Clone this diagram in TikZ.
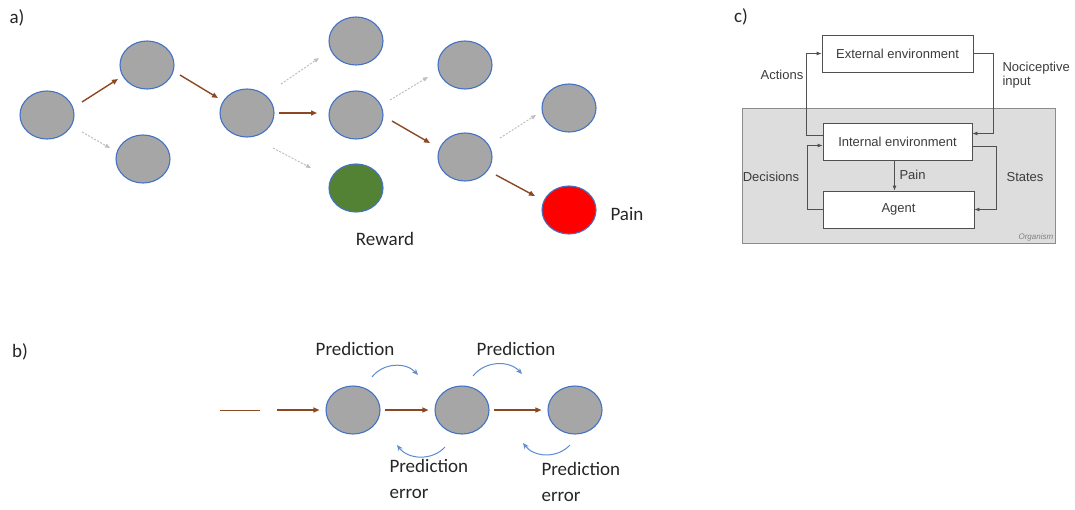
\documentclass[tikz,border=0pt]{standalone}
\usepackage{fontspec}
\setmainfont{Carlito}
\newfontfamily\arialfont{Liberation Sans}
\usetikzlibrary{arrows.meta,shapes.geometric}
\definecolor{nodegrey}{RGB}{166,166,166}
\definecolor{nodeblue}{RGB}{68,114,196}
\definecolor{arrowbrown}{RGB}{140,72,35}
\definecolor{dotgrey}{RGB}{190,190,190}
\definecolor{curveblue}{RGB}{91,139,208}
\definecolor{rewardgreen}{RGB}{84,130,53}
\definecolor{painred}{RGB}{255,0,0}
\definecolor{boxline}{RGB}{80,80,80}
\definecolor{orgfill}{RGB}{221,221,221}
\definecolor{orgline}{RGB}{140,140,140}
\definecolor{ctext}{RGB}{60,60,60}
\tikzset{
  state/.style={ellipse, draw=nodeblue, fill=nodegrey, line width=1.1pt,
    minimum width=54pt, minimum height=48pt, inner sep=0pt},
  choice/.style={draw=arrowbrown, line width=1.4pt,
    -{Triangle[length=6pt,width=5pt]}},
  option/.style={draw=dotgrey, line width=1pt, dash pattern=on 2pt off 1.5pt,
    -{Triangle[length=5pt,width=4pt]}},
  loop/.style={draw=curveblue, line width=1pt, -{Stealth[length=6pt,width=5pt]}},
  lbl/.style={font=\fontsize{19}{26}\selectfont, text=black!85},
  cbox/.style={draw=boxline, fill=white, line width=0.8pt, inner sep=0pt,
    text=ctext, font=\arialfont\fontsize{13}{15}\selectfont},
  carrow/.style={draw=boxline, line width=0.8pt, -{Latex[length=5pt,width=4pt]}},
  clbl/.style={text=ctext, font=\arialfont\fontsize{13}{15}\selectfont, align=left}
}
\begin{document}
\begin{tikzpicture}[x=1pt,y=-1pt]
\useasboundingbox (0,0) rectangle (1075,509);

% ---------- a) decision tree ----------
\node[lbl] (la) at (17,18) {a)};
\node[state] (s0) at (47,115) {};
\node[state] (s1) at (147,65) {};
\node[state] (s2) at (143,159) {};
\node[state] (s3) at (247,113) {};
\node[state] (s4) at (356,41) {};
\node[state] (s5) at (356,115) {};
\node[state, fill=rewardgreen] (rew) at (356,188) {};
\node[state] (s6) at (465,65) {};
\node[state] (s7) at (465,157) {};
\node[state] (s8) at (569,108) {};
\node[state, fill=painred] (pain) at (569,210) {};
\node[lbl] (lrew) at (385,239) {Reward};
\node[lbl, anchor=west] (lpain) at (607,214) {Pain};

\draw[choice] (s0) ++(35,-13) -- ++(36,-23);
\draw[option] (s0) ++(35,17) -- ++(28,16);
\draw[choice] (s1) ++(33,10) -- ++(38,23);
\draw[option] (s3) ++(34,-29) -- ++(38,-26);
\draw[choice] (s3) ++(32,0) -- ++(38,0);
\draw[option] (s3) ++(26,35) -- ++(38,20);
\draw[option] (s5) ++(34,-15) -- ++(38,-23);
\draw[choice] (s5) ++(36,6) -- ++(38,22);
\draw[option] (s7) ++(35,-19) -- ++(36,-23);
\draw[choice] (s7) ++(31,18) -- ++(39,21);

% ---------- b) prediction chain ----------
\node[lbl] (lb) at (20,352) {b)};
\node[state] (p1) at (353,410) {};
\node[state] (p2) at (462,410) {};
\node[state] (p3) at (575,410) {};
\coordinate (t0) at (220,410);
\coordinate (t1) at (260,410);
\coordinate (t2) at (277,410);
\draw[draw=arrowbrown, line width=1pt] (t0) -- (t1);
\draw[choice, line width=1.2pt] (t2) -- ([xshift=-6pt]p1.west);
\draw[choice, line width=1.2pt] (p1.east) ++(4,0) -- ([xshift=-6pt]p2.west);
\draw[choice, line width=1.2pt] (p2.east) ++(4,0) -- ([xshift=-6pt]p3.west);

\node[lbl] (pr1) at (355,349) {Prediction};
\node[lbl] (pr2) at (516,349) {Prediction};
\node[lbl, align=left, anchor=north west] (pe1) at (386,456) {Prediction\\error};
\node[lbl, align=left, anchor=north west] (pe2) at (538,459) {Prediction\\error};

\draw[loop] (p1) ++(19,-33) to[bend left=50] ++(46,-2);
\draw[loop] (p2) ++(11,-34) to[bend left=50] ++(49,-2);
\draw[loop] (p2) ++(-17,37) to[bend left=50] ++(-48,-2);
\draw[loop] (p3) ++(-5,35) to[bend left=50] ++(-47,-2);

% ---------- c) organism loop ----------
\node[lbl] (lc) at (741,17) {c)};
\node[draw=orgline, fill=orgfill, line width=0.8pt, minimum width=313pt,
  minimum height=135pt, inner sep=0pt] (org) at (898.5,175.5) {};
\node[anchor=south east, text=gray, inner sep=2pt,
  font=\arialfont\itshape\fontsize{8}{9}\selectfont] (orgl) at (org.south east) {Organism};
\node[cbox, minimum width=151pt, minimum height=37pt] (ext) at (897.5,53.5) {External environment};
\node[cbox, minimum width=149pt, minimum height=37pt] (int) at (897.5,141.5) {Internal environment};
\node[cbox, minimum width=151pt, minimum height=37pt] (agent) at (898.5,209.5) {Agent};

\draw[carrow] ([yshift=6pt]int.west) -- ++(-16,0) |- (ext.west);
\draw[carrow] (ext.east) -- ++(20,0) |- ([yshift=8pt]int.east);
\draw[carrow] (agent.west) -- ++(-15,0) |- ([yshift=-4pt]int.west);
\draw[carrow] ([yshift=-5pt]int.east) -- ++(24,0) |- (agent.east);
\draw[carrow] ([xshift=-3pt]int.south) -- ([xshift=-4pt]agent.north);

\node[clbl] (lact) at (782,75) {Actions};
\node[clbl, anchor=west] (lnoc) at (999,75) {Nociceptive\\[-1pt]input};
\node[clbl] (ldec) at (771,177) {Decisions};
\node[clbl] (lsta) at (1025,177) {States};
\node[clbl, anchor=west] (lpn) at (896,175) {Pain};
\end{tikzpicture}
\end{document}
